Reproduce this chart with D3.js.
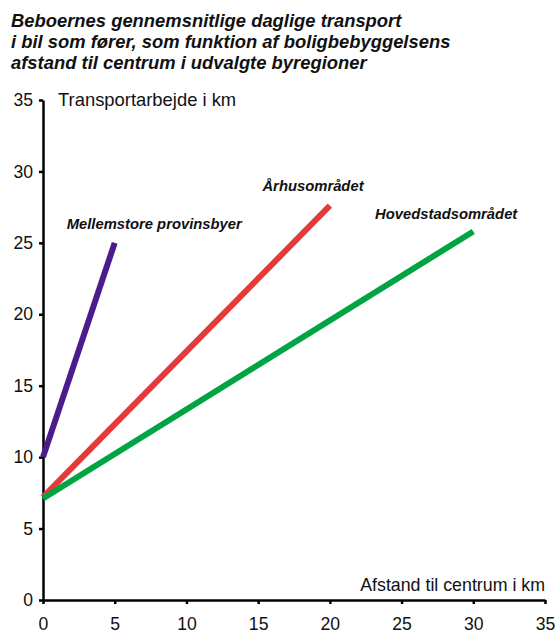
<!DOCTYPE html>
<html>
<head>
<meta charset="utf-8">
<script src="https://cdn.jsdelivr.net/npm/d3@7"></script>
<style>
  body { margin: 0; background: #fff; }
  svg { display: block; font-family: "Liberation Sans", Arial, sans-serif; }
</style>
</head>
<body>
<div id="chart"></div>
<script>
const titleLines = [
  "Beboernes gennemsnitlige daglige transport",
  "i bil som fører, som funktion af boligbebyggelsens",
  "afstand til centrum i udvalgte byregioner"
];
const seriesNames = ["Mellemstore provinsbyer", "Århusområdet", "Hovedstadsområdet"];
const seriesColors = ["#4a1c8c", "#e43a3a", "#00a443"];
// each series: [start distance, end distance] and [start km, end km]
const seriesX = [[0, 5], [0, 20], [0, 30]];
const seriesY = [[10, 25], [7.2, 27.6], [7.1, 25.8]];
// label anchors in data units
const labelX = [1.65, 15.3, 23.15];
const labelY = [26.0, 28.65, 26.7];
const tickValues = [0, 5, 10, 15, 20, 25, 30, 35];

const width = 557, height = 633;
const margin = { left: 43, right: 12, top: 100, bottom: 33 };

const svg = d3.select("#chart").append("svg")
  .attr("width", width)
  .attr("height", height);

const x = d3.scaleLinear().domain([0, 35]).range([margin.left, width - margin.right]);
const y = d3.scaleLinear().domain([0, 35]).range([height - margin.bottom, margin.top]);

// title
svg.append("g").selectAll("text")
  .data(titleLines)
  .enter()
  .append("text")
  .attr("x", 11)
  .attr("y", (d, i) => 27 + i * 21)
  .attr("font-size", "18.4px")
  .attr("font-weight", "bold")
  .attr("font-style", "italic")
  .attr("fill", "#111")
  .text(d => d);

// axes
const xAxis = svg.append("g")
  .attr("transform", `translate(0,${y(0)})`)
  .call(d3.axisBottom(x).tickValues(tickValues).tickSize(4).tickPadding(14).tickSizeOuter(0));
const yAxis = svg.append("g")
  .attr("transform", `translate(${x(0)},0)`)
  .call(d3.axisLeft(y).tickValues(tickValues).tickSize(4).tickPadding(6).tickSizeOuter(0));

[xAxis, yAxis].forEach(ax => {
  ax.select(".domain").attr("stroke", "#000").attr("stroke-width", 2.5);
  ax.selectAll(".tick line").attr("stroke", "#000").attr("stroke-width", 2.5);
  ax.selectAll(".tick text")
    .attr("font-size", "17.6px")
    .attr("font-family", "Liberation Sans, Arial, sans-serif")
    .attr("fill", "#111");
});

// axis titles
svg.append("text")
  .attr("x", x(0) + 15)
  .attr("y", y(35) + 6)
  .attr("font-size", "18.4px")
  .attr("fill", "#111")
  .text("Transportarbejde i km");

svg.append("text")
  .attr("x", x(35))
  .attr("y", y(0) - 9)
  .attr("text-anchor", "end")
  .attr("font-size", "17.8px")
  .attr("fill", "#111")
  .text("Afstand til centrum i km");

// lines
const line = d3.line().x(d => x(d[0])).y(d => y(d[1]));
seriesNames.forEach((name, i) => {
  const pts = seriesX[i].map((v, j) => [v, seriesY[i][j]]);
  svg.append("path")
    .datum(pts)
    .attr("d", line)
    .attr("fill", "none")
    .attr("stroke", seriesColors[i])
    .attr("stroke-width", 6);
});

// series labels
svg.append("g").selectAll("text")
  .data(seriesNames)
  .enter()
  .append("text")
  .attr("x", (d, i) => x(labelX[i]))
  .attr("y", (d, i) => y(labelY[i]))
  .attr("font-size", "14.8px")
  .attr("font-weight", "bold")
  .attr("font-style", "italic")
  .attr("fill", "#111")
  .text(d => d);
</script>
</body>
</html>
